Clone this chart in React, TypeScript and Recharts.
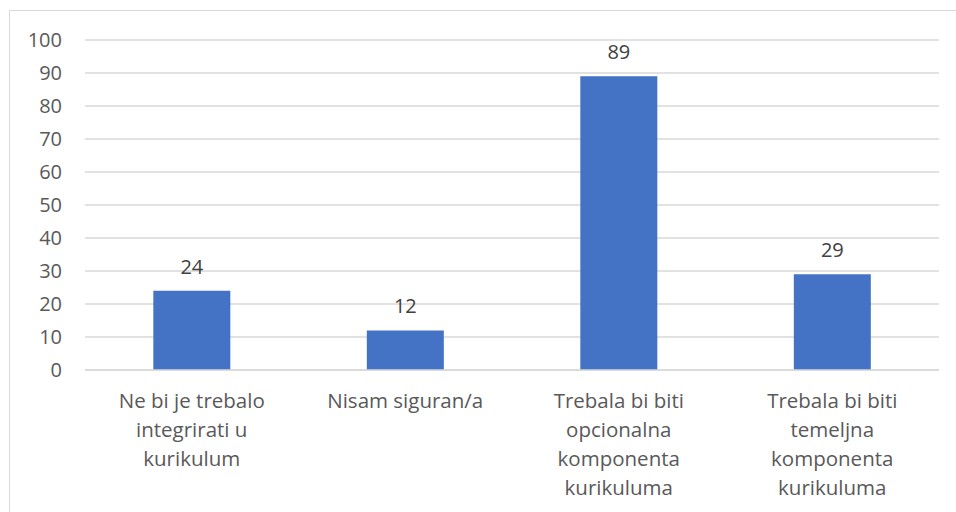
import { BarChart, Bar, XAxis, YAxis, CartesianGrid, LabelList } from "recharts";

const categories = [
  "Ne bi je trebalo integrirati u kurikulum",
  "Nisam siguran/a",
  "Trebala bi biti opcionalna komponenta kurikuluma",
  "Trebala bi biti temeljna komponenta kurikuluma",
];

// how Excel wrapped each category label
const categoryLines = [
  ["Ne bi je trebalo", "integrirati u", "kurikulum"],
  ["Nisam siguran/a"],
  ["Trebala bi biti", "opcionalna", "komponenta", "kurikuluma"],
  ["Trebala bi biti", "temeljna", "komponenta", "kurikuluma"],
];

const counts = [24, 12, 89, 29];

const yTicks = [0, 10, 20, 30, 40, 50, 60, 70, 80, 90, 100];

const data = categories.map((name, i) => ({ name, lines: categoryLines[i], value: counts[i] }));

const FONT = "'Open Sans', sans-serif";

function CategoryTick(props: any) {
  const { x, y, payload } = props;
  const lines = categoryLines[payload.index] ?? [payload.value];
  return (
    <text x={x} y={y} textAnchor="middle" fill="#595959" fontSize={20.5} fontFamily={FONT}>
      {lines.map((line: string, i: number) => (
        <tspan key={i} x={x} dy={i === 0 ? 30 : 29}>
          {line}
        </tspan>
      ))}
    </text>
  );
}

export default function App() {
  return (
    <div style={{ position: "fixed", left: 0, top: 0, width: 956, height: 512, background: "#fff", overflow: "hidden" }}>
      <div
        style={{
          position: "absolute",
          left: 9,
          top: 10,
          width: 980,
          height: 540,
          border: "1px solid #d9d9d9",
          boxSizing: "border-box",
        }}
      />
      <div style={{ position: "absolute", left: 0, top: 0 }}>
        <BarChart
          width={956}
          height={512}
          data={data}
          barCategoryGap="32%"
          margin={{ top: 40, right: 17, bottom: 0, left: 25 }}
        >
          <CartesianGrid vertical={false} stroke="#d9d9d9" strokeWidth={1.5} />
          <XAxis
            dataKey="name"
            interval={0}
            height={142}
            tickLine={false}
            axisLine={{ stroke: "#d9d9d9", strokeWidth: 1.5 }}
            tick={<CategoryTick />}
          />
          <YAxis
            domain={[0, 100]}
            ticks={yTicks}
            width={60}
            axisLine={false}
            tickLine={false}
            tickSize={0}
            tickMargin={23}
            tick={{ fill: "#595959", fontSize: 20, fontFamily: FONT }}
          />
          <Bar dataKey="value" fill="#4472C4" isAnimationActive={false}>
            <LabelList dataKey="value" position="top" offset={17} fill="#404040" fontSize={20} fontFamily={FONT} />
          </Bar>
        </BarChart>
      </div>
    </div>
  );
}
